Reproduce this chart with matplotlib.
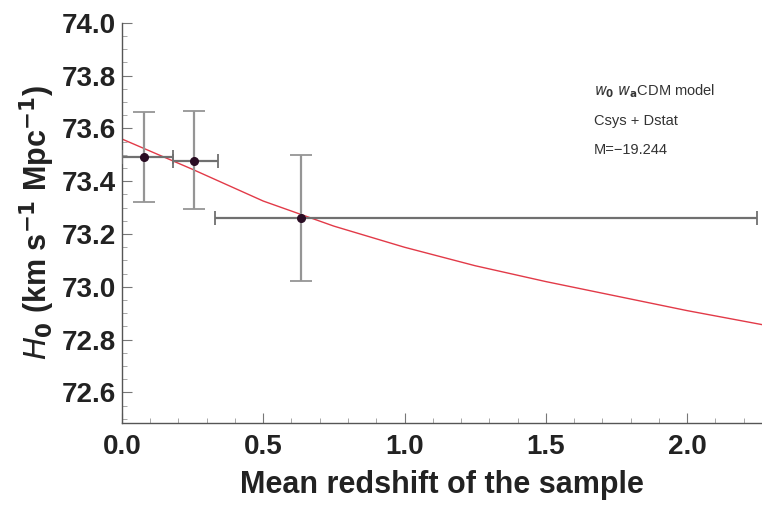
import matplotlib
matplotlib.use("Agg")
import matplotlib.pyplot as plt
import numpy as np

plt.rcParams['font.family'] = ['Liberation Sans', 'DejaVu Sans']

# data points
z_mean = [0.078, 0.254, 0.633]
z_low = [0.0, 0.180, 0.330]
z_high = [0.180, 0.339, 2.247]
h0 = [73.492, 73.477, 73.261]
h0_err_up = [0.171, 0.190, 0.239]
h0_err_dn = [0.170, 0.182, 0.238]

# model curve
curve_z = [0.0, 0.25, 0.5, 0.75, 1.0, 1.25, 1.5, 1.75, 2.0, 2.27]
curve_h = [73.56, 73.445, 73.325, 73.23, 73.15, 73.08, 73.02, 72.965, 72.91, 72.856]

xticks = [0.0, 0.5, 1.0, 1.5, 2.0]
yticks = [72.6, 72.8, 73.0, 73.2, 73.4, 73.6, 73.8, 74.0]

fig = plt.figure(figsize=(7.62, 5.07), dpi=100)
ax = fig.add_axes([0.160, 0.166, 0.840, 0.789])

ax.plot(curve_z, curve_h, color='#e23a48', lw=1.0, zorder=2)

xerr = [np.array(z_mean) - np.array(z_low), np.array(z_high) - np.array(z_mean)]
yerr = [h0_err_dn, h0_err_up]
# vertical bars
_, caps_v, bars_v = ax.errorbar(z_mean, h0, yerr=yerr, fmt='none', ecolor='#959595',
                                elinewidth=1.6, capsize=8, capthick=1.3, zorder=3)
for c in caps_v:
    c.set_color('#c79aa5')
# horizontal bars
_, caps_h, bars_h = ax.errorbar(z_mean, h0, xerr=xerr, fmt='none', ecolor='#707070',
                                elinewidth=1.6, capsize=5, capthick=1.3, zorder=3)
for c in caps_h:
    c.set_color('#c79aa5')
ax.plot(z_mean, h0, 'o', color='#2a0d24', ms=5.5, zorder=4)

ax.set_xlim(0, 2.265)
ax.set_ylim(72.485, 74.0)
ax.set_xticks(xticks)
ax.set_yticks(yticks)
ax.set_xticklabels([f"{v:.1f}" for v in xticks])
ax.set_yticklabels([f"{v:.1f}" for v in yticks])
ax.set_xticks(np.arange(0.1, 2.26, 0.1), minor=True)
ax.set_yticks(np.arange(72.5, 74.0, 0.05), minor=True)

for side in ['top', 'right']:
    ax.spines[side].set_visible(False)
for side in ['left', 'bottom']:
    ax.spines[side].set_color('#555555')
    ax.spines[side].set_linewidth(1.0)

ax.tick_params(axis='both', which='major', direction='in', length=7, width=0.8,
               color='#777777', labelsize=20, pad=4)
ax.tick_params(axis='x', which='major', pad=8)
ax.tick_params(axis='both', which='minor', direction='in', length=3.5, width=0.6,
               color='#999999')
for lab in ax.get_xticklabels() + ax.get_yticklabels():
    lab.set_fontweight('bold')
    lab.set_color('#222222')

ax.set_xlabel('Mean redshift of the sample', fontsize=22, fontweight='bold',
              color='#222222', labelpad=7)
ax.set_ylabel(r'$\mathbf{\mathit{H}_0}$' + r' (km s$^{\mathbf{-1}}$ Mpc$^{\mathbf{-1}}$)',
              fontsize=22, fontweight='bold', color='#222222', labelpad=4)

tx = 0.737
ax.text(tx, 0.830, r'$\mathbf{\mathit{w}_0}$ $\mathbf{\mathit{w}_a}$CDM model',
        transform=ax.transAxes, fontsize=10.5, color='#333333', va='center')
ax.text(tx, 0.755, 'Csys + Dstat', transform=ax.transAxes, fontsize=10.5,
        color='#333333', va='center')
ax.text(tx, 0.682, 'M=\u221219.244', transform=ax.transAxes, fontsize=10.5,
        color='#333333', va='center')

fig.savefig('out.png', dpi=100)
